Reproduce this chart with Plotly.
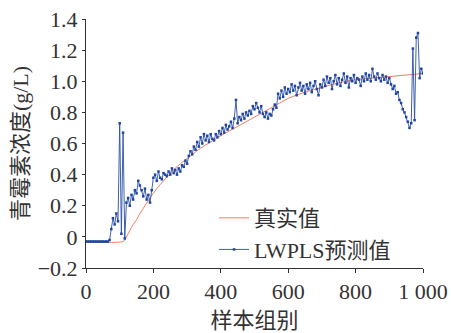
import plotly.graph_objects as go

# True value curve (sample index, concentration g/L)
true_x = [0, 110, 115, 120, 130, 140, 150, 160, 175, 190, 210, 230, 255, 280, 310,
          340, 370, 400, 450, 500, 550, 600, 650, 700, 750, 800, 850, 900, 950, 1000]
true_y = [-0.03, -0.03, -0.02, 0.0, 0.04, 0.08, 0.11, 0.15, 0.20, 0.25, 0.31, 0.36, 0.42, 0.47, 0.52,
          0.57, 0.61, 0.65, 0.71, 0.77, 0.83, 0.89, 0.93, 0.96, 0.99, 1.01, 1.02, 1.03, 1.04, 1.05]

# LWPLS prediction, sampled every 5 samples (0..1000)
pred_x = list(range(0, 1001, 5))
pred_y = [
    -0.03, -0.03, -0.03, -0.03, -0.03, -0.03, -0.03, -0.03, -0.03, -0.03,
    -0.03, -0.03, -0.03, -0.03, -0.02, 0.05, 0.12, 0.08, 0.15, 0.10,
    0.73, 0.02, 0.67, -0.01, 0.22, 0.25, 0.20, 0.27, 0.24, 0.30,
    0.28, 0.36, 0.33, 0.30, 0.26, 0.31, 0.24, 0.27, 0.22, 0.30,
    0.38, 0.40, 0.36, 0.42, 0.38, 0.37, 0.41, 0.40, 0.39, 0.42,
    0.40, 0.44, 0.41, 0.43, 0.40, 0.44, 0.42, 0.46, 0.45, 0.49,
    0.47, 0.52, 0.55, 0.53, 0.58, 0.56, 0.61, 0.58, 0.64, 0.60,
    0.66, 0.62, 0.65, 0.61, 0.66, 0.63, 0.62, 0.66, 0.64, 0.68,
    0.66, 0.70, 0.67, 0.72, 0.69, 0.71, 0.74, 0.70, 0.76, 0.88,
    0.73, 0.77, 0.75, 0.79, 0.76, 0.80, 0.78, 0.81, 0.79, 0.84,
    0.82, 0.86, 0.83, 0.80, 0.84, 0.79, 0.77, 0.80, 0.76, 0.79,
    0.78, 0.82, 0.85, 0.83, 0.92, 0.89, 0.94, 0.90, 0.96, 0.92,
    0.95, 0.93, 0.98, 0.94, 0.97, 0.91, 0.96, 0.99, 0.94, 0.97,
    0.92, 0.98, 0.95, 0.99, 0.93, 0.97, 1.00, 0.95, 0.91, 0.98,
    0.96, 1.01, 0.97, 1.03, 0.99, 1.02, 0.95, 1.00, 1.04, 0.98,
    1.02, 0.97, 1.01, 1.05, 0.99, 1.03, 0.96, 1.02, 1.00, 1.04,
    0.99, 1.02, 1.01, 0.97, 1.03, 1.00, 1.05, 1.01, 1.04, 1.00,
    1.08, 1.03, 1.01, 1.05, 1.02, 1.00, 1.04, 1.01, 1.03, 0.99,
    1.02, 0.98, 0.95, 0.97, 0.92, 0.93, 0.88, 0.86, 0.82, 0.80,
    0.77, 0.74, 0.70, 0.73, 1.21, 0.75, 1.28, 1.31, 1.02, 1.08,
    1.05,
]

x_ticks = [0, 200, 400, 600, 800, 1000]
x_ticktext = ["0", "200", "400", "600", "800", "1 000"]
y_ticks = [-0.2, 0, 0.2, 0.4, 0.6, 0.8, 1.0, 1.2, 1.4]
y_ticktext = ["\u22120.2", "0", "0.2", "0.4", "0.6", "0.8", "1.0", "1.2", "1.4"]

FONT = "Liberation Serif, Times New Roman, Noto Sans CJK SC, serif"

fig = go.Figure()
fig.add_trace(go.Scatter(
    x=true_x, y=true_y, mode="lines", name="真实值",
    line=dict(color="#f47c5c", width=1, shape="spline"),
))
fig.add_trace(go.Scatter(
    x=pred_x, y=pred_y, mode="lines+markers", name="LWPLS预测值",
    line=dict(color="#2a4fa6", width=0.9),
    marker=dict(color="#1f45a0", size=2.5, symbol="square"),
))

fig.update_layout(
    width=451, height=333,
    margin=dict(l=86, r=28, t=19, b=65),
    paper_bgcolor="white", plot_bgcolor="white",
    font=dict(family=FONT, size=22, color="#333333"),
    showlegend=True,
    legend=dict(
        x=0.38, y=0.285, xanchor="left", yanchor="top",
        bgcolor="rgba(0,0,0,0)", font=dict(size=22, color="#333333"),
        tracegroupgap=0, itemwidth=30,
    ),
    xaxis=dict(
        range=[0, 1000], tickvals=x_ticks, ticktext=x_ticktext, automargin=False,
        showgrid=False, zeroline=False, showline=True, linecolor="#333333", linewidth=1,
        ticks="outside", ticklen=4, tickcolor="#333333",
        title=dict(text="样本组别", font=dict(size=22), standoff=10),
    ),
    yaxis=dict(
        range=[-0.2, 1.4], tickvals=y_ticks, ticktext=y_ticktext, automargin=False,
        showgrid=False, zeroline=False, showline=True, linecolor="#333333", linewidth=1,
        ticks="outside", ticklen=3, tickcolor="#333333",
        title=dict(text="青霉素浓度(g/L)", font=dict(size=22), standoff=2),
    ),
)

fig.write_html("out.html")
